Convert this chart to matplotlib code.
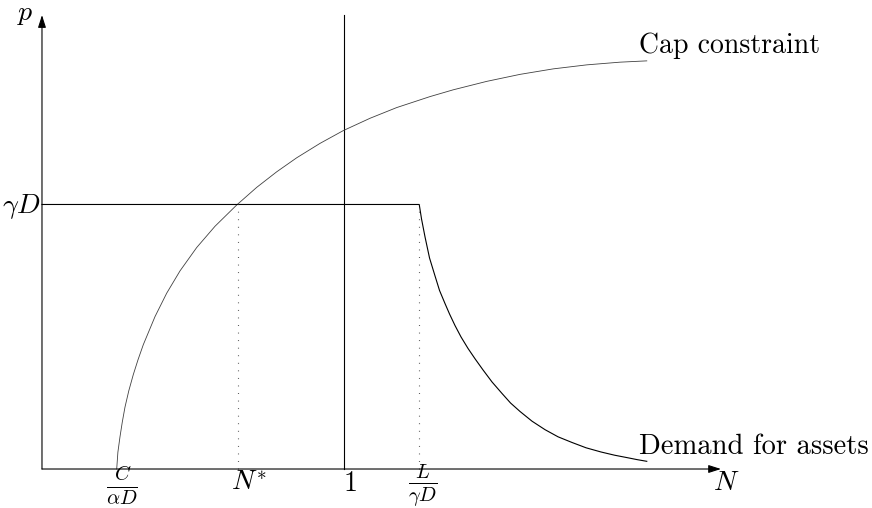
import matplotlib.pyplot as plt

plt.rcParams["mathtext.fontset"] = "cm"

# points (N on the x axis, p on the y axis, gammaD = 1)
cap_n = [0.2474, 0.2513, 0.2583, 0.2659, 0.2748, 0.2874, 0.3023, 0.3179, 0.3354,
         0.3742, 0.4129, 0.4570, 0.5123, 0.5728, 0.6447, 0.7109, 0.7772, 0.8434,
         0.9205, 0.9977, 1.0861, 1.1745, 1.2848, 1.3619, 1.4725, 1.5828, 1.6930,
         1.8036, 1.9139, 2.0023]
cap_p = [0.0, 0.0635, 0.1221, 0.1777, 0.2340, 0.2957, 0.3569, 0.4129, 0.4699,
         0.5762, 0.6647, 0.7490, 0.8374, 0.9176, 0.9981, 1.0647, 1.1236, 1.1766,
         1.2310, 1.2794, 1.3259, 1.3664, 1.4079, 1.4336, 1.4654, 1.4919, 1.5127,
         1.5278, 1.5380, 1.5429]

demand_n = [0.0, 1.249, 1.2566, 1.2682, 1.2831, 1.3013, 1.3162, 1.3344, 1.3493,
            1.3675, 1.3874, 1.4106, 1.4338, 1.4603, 1.4901, 1.5232, 1.5513, 1.5828,
            1.6225, 1.6656, 1.7086, 1.7550, 1.8013, 1.8510, 1.8957, 1.9404, 1.9702,
            2.0023]
demand_p = [1.0, 1.0, 0.9452, 0.8771, 0.7977, 0.7297, 0.6749, 0.6253, 0.5860,
            0.5422, 0.4991, 0.4556, 0.4166, 0.3743, 0.3289, 0.2854, 0.2495, 0.2174,
            0.1807, 0.1486, 0.1217, 0.1002, 0.0802, 0.0643, 0.0522, 0.0423, 0.0355,
            0.0291]

n_star = 0.648
n_one = 1.0
l_gamma = 1.249
gamma_d = 1.0
x_max = 2.248
y_max = 1.716

tick_pos = [0.264, 0.686, 1.021, 1.262]
tick_y = [-0.062, -0.051, -0.052, -0.064]
tick_labels = [r"$\frac{C}{\alpha D}$", r"$N^{*}$", r"$1$", r"$\frac{L}{\gamma D}$"]
tick_size = [21, 20, 20, 21]

fig = plt.figure(figsize=(8.72, 5.08), dpi=100)
ax = fig.add_axes([0, 0, 1, 1])
ax.set_xlim(-0.139, 2.748)
ax.set_ylim(-0.1474, 1.773)
ax.axis("off")

fs = 20
lw = 0.8

# axes with arrows
arrow = dict(arrowstyle="-|>,head_length=0.75,head_width=0.24", lw=lw,
             color="black", shrinkA=0, shrinkB=0)
ax.annotate("", xy=(x_max, 0), xytext=(0, 0), arrowprops=arrow)
ax.annotate("", xy=(0, y_max), xytext=(0, 0), arrowprops=arrow)

# vertical line at N = 1
ax.plot([n_one, n_one], [0, y_max], color="black", lw=lw)

# curves
ax.plot(cap_n, cap_p, color="0.25", lw=0.6, solid_joinstyle="round")
ax.plot(demand_n, demand_p, color="black", lw=lw, solid_joinstyle="round")

# dotted guides
for xv in [n_star, l_gamma]:
    ax.plot([xv, xv], [0, gamma_d], color="0.3", lw=lw,
            linestyle=(0, (0.8, 6)))

# labels
ax.text(-0.055, 1.722, r"$p$", fontsize=fs, ha="center", va="center")
ax.text(-0.003, 0.992, r"$\gamma D$", fontsize=fs, ha="right", va="center")
ax.text(2.265, -0.048, r"$N$", fontsize=fs, ha="center", va="center")
for xp, yp, lab, sz in zip(tick_pos, tick_y, tick_labels, tick_size):
    ax.text(xp, yp, lab, fontsize=sz, ha="center", va="center")

ax.text(1.977, 1.572, "Cap constraint", fontsize=fs, family="cmr10",
        ha="left", va="baseline")
ax.text(1.977, 0.056, "Demand for assets", fontsize=20.6, family="cmr10",
        ha="left", va="baseline")

fig.savefig("out.png", dpi=100)
